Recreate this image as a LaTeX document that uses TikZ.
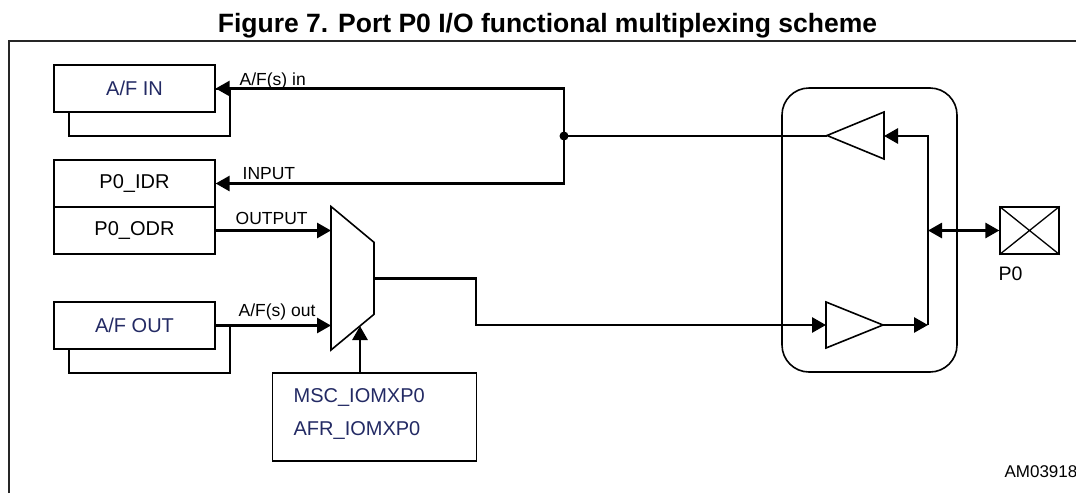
\documentclass[tikz,border=0pt]{standalone}
\usepackage{fontspec}
\setmainfont{Liberation Sans}
\usepackage{xcolor}
\usepackage{tikz}
\usetikzlibrary{arrows.meta}
\definecolor{regblue}{RGB}{35,42,100}
\newcommand{\boxfont}{\fontsize{20}{24}\selectfont}
\newcommand{\sigfont}{\fontsize{17.5}{21}\selectfont}

\begin{document}
\begin{tikzpicture}[x=1pt, y=-1pt, inner sep=0pt, line width=1.3pt,
	>={Triangle[length=14pt, width=15pt]},
	reg/.style = {draw, fill=white, minimum width=161pt, minimum height=47pt, font=\boxfont},
	sig/.style = {line width=2.8pt},
	lab/.style = {anchor=base west, font=\sigfont},
	buf/.style = {draw, line width=1.6pt}]
	\useasboundingbox (0,0) rectangle (1076,493);
	\node[anchor=base, font=\bfseries\fontsize{26.5}{31}\selectfont] (title) at (547.5,32.3) {Figure 7. Port P0 I/O functional multiplexing scheme};
	\draw[black!85] (9,493) -- (9,41) -- (1076,41);
	\node[reg] (afinback) at (149.5,112.5) {};
	\node[reg, text=regblue] (afin) at (134.5,88.5) {A/F IN};
	\node[reg] (idr) at (134.5,183.5) {P0\_IDR};
	\node[reg] (odr) at (134.5,230.5) {P0\_ODR};
	\node[reg] (afoutback) at (149.5,349.5) {};
	\node[reg, text=regblue] (afout) at (134.5,325.5) {A/F OUT};
	\node[draw, minimum width=204pt, minimum height=88pt] (sel) at (374.5,417) {};
	\node[anchor=base west, font=\boxfont, text=regblue] (msc) at (293,402.7) {MSC\_IOMXP0};
	\node[anchor=base west, font=\boxfont, text=regblue] (afr) at (293,435) {AFR\_IOMXP0};
	\node[draw, rounded corners=27pt, line width=1.6pt, minimum width=175pt, minimum height=284pt] (cell) at (869.5,230) {};
	\node[draw, minimum width=59pt, minimum height=47pt] (pad) at (1029.5,230.5) {};
	\draw (pad.north west) -- (pad.south east) (pad.north east) -- (pad.south west);
	\node[anchor=base west, font=\fontsize{19.5}{23}\selectfont] (padlab) at (998,280) {P0};
	\node[anchor=base east, font=\fontsize{17}{20}\selectfont] (code) at (1078,477) {AM03918};
	\node[circle, fill, minimum size=9pt] (junc) at (564,136) {};
	\draw[buf, fill=white] (331,206.5) -- (374,242.3) -- (374,314.3) -- (331,350) -- cycle;
	\coordinate (muxA) at (331,230.5);
	\coordinate (muxB) at (331,325.5);
	\coordinate (muxO) at (374,278.3);
	\coordinate (muxS) at (360,326);
	\draw[buf] (884,112) -- (884,159) -- (827,135.5) -- cycle;
	\coordinate (ibufin) at (884,136);
	\coordinate (ibufout) at (827,136);
	\draw[buf] (826,302) -- (826,348) -- (883,325) -- cycle;
	\coordinate (obufin) at (826,325);
	\coordinate (obufout) at (883,325);
	\coordinate (busBot) at (928,325);
	\coordinate (busMid) at (928,230.5);
	\draw[sig, ->] (junc.center) |- (afin.east);
	\draw[sig, ->] (junc.center) |- (idr.east);
	\draw[sig] (junc.center) -- (ibufout);
	\draw[sig, ->] (odr.east) -- (muxA);
	\draw[sig, ->] (afout.east) -- (muxB);
	\draw[sig, ->] (muxS |- sel.north) -- (muxS);
	\draw[sig, ->] (muxO) -- (476,278.3) |- (obufin);
	\draw[sig, ->] (obufout) -- (busBot);
	\draw[sig, ->] (busBot) |- (ibufin);
	\draw[sig, <->] (busMid) -- (pad.west);
	\node[lab] (afinlab) at (239,85.7) {A/F(s) in};
	\node[lab] (inlab) at (242,179) {INPUT};
	\node[lab] (outlab) at (235,224) {OUTPUT};
	\node[lab] (afoutlab) at (238,316) {A/F(s) out};
\end{tikzpicture}
\end{document}
